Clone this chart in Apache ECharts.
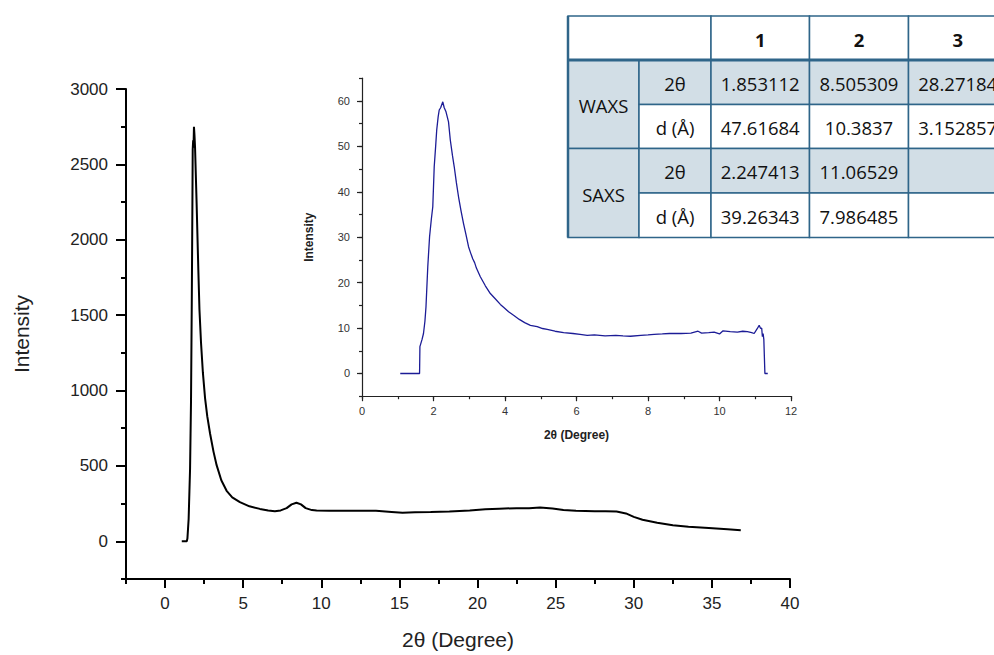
<!DOCTYPE html>
<html>
<head>
<meta charset="utf-8">
<title>XRD 2θ</title>
<script src="https://cdn.jsdelivr.net/npm/echarts@6/dist/echarts.min.js"></script>
<style>
  html, body { margin: 0; padding: 0; background: #fff; }
  #main { width: 994px; height: 655px; }
</style>
</head>
<body>
<div id="main"></div>
<script type="text/javascript">
    // 主图 (WAXS) 数据: [2θ, intensity]
    var waxsX = [1.07, 1.39, 1.43, 1.51, 1.6, 1.66, 1.71, 1.75, 1.77, 1.8, 1.82, 1.85, 1.88, 1.92, 2.02, 2.13, 2.2, 2.3, 2.42, 2.56, 2.7, 2.88, 3.1, 3.3, 3.6, 3.94, 4.3, 4.79, 5.4, 6.07, 6.6, 7.03, 7.4, 7.78, 8.1, 8.41, 8.7, 9.0, 9.4, 9.7, 10.5, 11.5, 12.5, 13.5, 14.5, 15.2, 16, 17, 18.2, 19.5, 20.5, 21.4, 22.5, 23.3, 24, 24.8, 25.5, 26.3, 27.5, 28.2, 28.9, 29.5, 30, 30.56, 31.5, 32.5, 33.5, 34.8, 36, 36.85];
    var waxsY = [0, 0, 18, 150, 480, 920, 1580, 2240, 2600, 2660, 2610, 2750, 2700, 2610, 2240, 1800, 1540, 1320, 1120, 950, 830, 715, 595, 505, 405, 335, 292, 260, 232, 215, 205, 200, 205, 220, 245, 256, 245, 220, 207, 204, 203, 203, 203, 202, 195, 190, 192, 194, 198, 205, 212, 216, 220, 220, 224, 218, 208, 202, 200, 200, 198, 185, 162, 143, 123, 106, 96, 88, 80, 73];

    // 插图 (SAXS) 数据
    var saxsX = [1.07, 1.61, 1.62, 1.68, 1.72, 1.76, 1.79, 1.84, 1.89, 1.94, 1.98, 2.02, 2.06, 2.09, 2.13, 2.16, 2.2, 2.26, 2.3, 2.35, 2.42, 2.47, 2.53, 2.58, 2.64, 2.7, 2.77, 2.84, 2.91, 2.98, 3.04, 3.1, 3.15, 3.2, 3.31, 3.45, 3.59, 3.72, 3.87, 3.96, 4.1, 4.24, 4.4, 4.55, 4.71, 4.9, 5.05, 5.18, 5.4, 5.64, 5.9, 6.1, 6.3, 6.5, 6.8, 7.1, 7.3, 7.51, 7.8, 8.0, 8.17, 8.4, 8.6, 8.92, 9.2, 9.4, 9.5, 9.7, 9.85, 10.0, 10.1, 10.3, 10.5, 10.65, 10.78, 10.9, 10.97, 11.05, 11.11, 11.15, 11.18, 11.2, 11.22, 11.24, 11.27, 11.35];
    var saxsY = [0, 0, 5.9, 7.5, 8.8, 11.5, 14.7, 23.5, 30.1, 34, 36.7, 45.5, 50, 53.6, 56.5, 58, 58.5, 59.8, 58.5, 57.6, 55.4, 51.4, 48, 45.5, 42, 38.9, 35.8, 33, 30.5, 27.9, 26.5, 25.2, 24.4, 23.2, 21.3, 19.3, 17.6, 16.5, 15.2, 14.6, 13.6, 12.8, 11.9, 11.2, 10.6, 10.3, 9.9, 9.7, 9.3, 9.0, 8.8, 8.6, 8.4, 8.5, 8.3, 8.4, 8.3, 8.2, 8.4, 8.5, 8.6, 8.7, 8.8, 8.8, 8.9, 9.3, 8.9, 9.0, 9.1, 8.7, 9.4, 9.2, 9.1, 9.3, 9.2, 9.0, 8.8, 9.8, 10.6, 9.9, 10, 8.1, 8.8, 7.5, 0, 0];

    // 刻度
    var mainXTicks = [0, 5, 10, 15, 20, 25, 30, 35, 40];
    var mainYTicks = [0, 500, 1000, 1500, 2000, 2500, 3000];
    var insetXTicks = [0, 2, 4, 6, 8, 10, 12];
    var insetYTicks = [0, 10, 20, 30, 40, 50, 60];

    // 表格
    var tableHead = ['1', '2', '3'];
    var tableGroups = ['WAXS', 'SAXS'];
    var tableRowNames = ['2θ', 'd (Å)'];
    var waxs2theta = ['1.853112', '8.505309', '28.27184'];
    var waxsD = ['47.61684', '10.3837', '3.152857'];
    var saxs2theta = ['2.247413', '11.06529', ''];
    var saxsD = ['39.26343', '7.986485', ''];

    function pairs(xs, ys) {
        var out = [];
        for (var i = 0; i < xs.length; i++) out.push([xs[i], ys[i]]);
        return out;
    }

    var FONT = '"Liberation Sans", Arial, sans-serif';
    var chart = echarts.init(document.getElementById('main'), null, {renderer: 'svg'});

    // ---- 表格 graphic ----
    var colX = [568, 639, 711, 809.5, 908.5, 1007];
    var rowY = [16, 60, 104.5, 148.5, 193, 237.5];
    var fillBlue = '#d2dee6';
    var lineBlue = '#2f6589';
    var tFont = '18.5px "Open Sans", "Liberation Sans", sans-serif';
    var g = [];
    function rect(x0, y0, x1, y1, fill) {
        g.push({type: 'rect', shape: {x: x0, y: y0, width: x1 - x0, height: y1 - y0},
            style: {fill: fill, stroke: lineBlue, lineWidth: 1.5}, z: 10});
    }
    function txt(x0, y0, x1, y1, s, bold) {
        g.push({type: 'text', x: (x0 + x1) / 2, y: (y0 + y1) / 2 + 1, z: 11,
            style: {text: s, font: (bold ? 'bold ' : '') + tFont, fill: '#111',
                textAlign: 'center', textVerticalAlign: 'middle'}});
    }
    rect(colX[0], rowY[0], colX[2], rowY[1], '#fff');
    for (var c = 0; c < 3; c++) {
        rect(colX[c + 2], rowY[0], colX[c + 3], rowY[1], '#fff');
        txt(colX[c + 2], rowY[0], colX[c + 3], rowY[1], tableHead[c], true);
    }
    var bodyRows = [waxs2theta, waxsD, saxs2theta, saxsD];
    for (var r = 0; r < 4; r++) {
        var fill = (r % 2 === 0) ? fillBlue : '#fff';
        if (r % 2 === 0) {
            rect(colX[0], rowY[r + 1], colX[1], rowY[r + 3], fillBlue);
            txt(colX[0], rowY[r + 1], colX[1], rowY[r + 3], tableGroups[r / 2], false);
        }
        rect(colX[1], rowY[r + 1], colX[2], rowY[r + 2], fill);
        txt(colX[1], rowY[r + 1], colX[2], rowY[r + 2], tableRowNames[r % 2], false);
        for (var c2 = 0; c2 < 3; c2++) {
            rect(colX[c2 + 2], rowY[r + 1], colX[c2 + 3], rowY[r + 2], fill);
            if (bodyRows[r][c2]) txt(colX[c2 + 2], rowY[r + 1], colX[c2 + 3], rowY[r + 2], bodyRows[r][c2], false);
        }
    }
    // 表头下方粗线 & 左边框
    g.push({type: 'line', shape: {x1: colX[0], y1: rowY[1], x2: 1000, y2: rowY[1]},
        style: {stroke: lineBlue, lineWidth: 3}, z: 12});
    g.push({type: 'line', shape: {x1: colX[0], y1: rowY[0], x2: colX[0], y2: rowY[5]},
        style: {stroke: lineBlue, lineWidth: 2.5}, z: 12});

    var blk = {color: '#000', width: 2};
    var inLine = {color: '#222', width: 1.2};

    chart.setOption({
        animation: false,
        backgroundColor: '#fff',
        grid: [
            {left: 126, top: 89, width: 664, height: 491.7},
            {left: 362, top: 78.2, width: 429, height: 318}
        ],
        xAxis: [
            {   // 主图 x (次刻度 + 标签)
                type: 'value', gridIndex: 0, position: 'bottom', min: -2.5, max: 40, interval: 2.5,
                splitLine: {show: false},
                axisLine: {lineStyle: blk, onZero: false},
                axisTick: {length: 5, lineStyle: blk},
                axisLabel: {margin: 16, color: '#222', fontSize: 17, fontFamily: FONT,
                    formatter: function (v) { return mainXTicks.indexOf(v) >= 0 ? String(v) : ''; }},
                name: '2θ (Degree)', nameLocation: 'middle', nameGap: 50,
                nameTextStyle: {fontSize: 21, color: '#222', fontFamily: FONT}
            },
            {   // 主图 x 主刻度
                type: 'value', gridIndex: 0, position: 'bottom', min: -2.5, max: 40,
                splitLine: {show: false}, axisLine: {show: false, onZero: false},
                axisTick: {length: 9, lineStyle: blk, customValues: mainXTicks},
                axisLabel: {show: false}
            },
            {   // 插图 x
                type: 'value', gridIndex: 1, position: 'bottom', min: 0, max: 12, interval: 1,
                splitLine: {show: false},
                axisLine: {lineStyle: inLine, onZero: false},
                axisTick: {length: 3, lineStyle: inLine},
                axisLabel: {margin: 9, color: '#333', fontSize: 11, fontFamily: FONT,
                    formatter: function (v) { return insetXTicks.indexOf(v) >= 0 ? String(v) : ''; }},
                name: '2θ (Degree)', nameLocation: 'middle', nameGap: 33,
                nameTextStyle: {fontSize: 12, fontWeight: 'bold', color: '#222', fontFamily: FONT}
            },
            {
                type: 'value', gridIndex: 1, position: 'bottom', min: 0, max: 12,
                splitLine: {show: false}, axisLine: {show: false, onZero: false},
                axisTick: {length: 5, lineStyle: inLine, customValues: insetXTicks},
                axisLabel: {show: false}
            }
        ],
        yAxis: [
            {
                type: 'value', gridIndex: 0, position: 'left', min: -250, max: 3000, interval: 250,
                splitLine: {show: false},
                axisLine: {show: true, lineStyle: blk, onZero: false},
                axisTick: {show: true, length: 5, lineStyle: blk},
                axisLabel: {margin: 18, color: '#222', fontSize: 17, fontFamily: FONT,
                    formatter: function (v) { return mainYTicks.indexOf(v) >= 0 ? String(v) : ''; }},
                name: 'Intensity', nameLocation: 'middle', nameGap: 94,
                nameTextStyle: {fontSize: 21, color: '#222', fontFamily: FONT}
            },
            {
                type: 'value', gridIndex: 0, position: 'left', min: -250, max: 3000,
                splitLine: {show: false}, axisLine: {show: false, onZero: false},
                axisTick: {show: true, length: 10, lineStyle: blk, customValues: mainYTicks},
                axisLabel: {show: false}
            },
            {
                type: 'value', gridIndex: 1, position: 'left', min: -5, max: 65, interval: 5,
                splitLine: {show: false},
                axisLine: {show: true, lineStyle: inLine, onZero: false},
                axisTick: {show: true, length: 3, lineStyle: inLine},
                axisLabel: {margin: 12, color: '#333', fontSize: 11, fontFamily: FONT,
                    formatter: function (v) { return insetYTicks.indexOf(v) >= 0 ? String(v) : ''; }},
                name: 'Intensity', nameLocation: 'middle', nameGap: 47,
                nameTextStyle: {fontSize: 12, fontWeight: 'bold', color: '#222', fontFamily: FONT}
            },
            {
                type: 'value', gridIndex: 1, position: 'left', min: -5, max: 65,
                splitLine: {show: false}, axisLine: {show: false, onZero: false},
                axisTick: {show: true, length: 5, lineStyle: inLine, customValues: insetYTicks},
                axisLabel: {show: false}
            }
        ],
        series: [
            {
                name: 'WAXS', type: 'line', xAxisIndex: 0, yAxisIndex: 0,
                data: pairs(waxsX, waxsY), showSymbol: false, smooth: false,
                lineStyle: {color: '#000', width: 2}
            },
            {
                name: 'SAXS', type: 'line', xAxisIndex: 2, yAxisIndex: 2,
                data: pairs(saxsX, saxsY), showSymbol: false, smooth: false,
                lineStyle: {color: '#1c1c96', width: 1.3}
            }
        ],
        graphic: g
    });
</script>
</body>
</html>
